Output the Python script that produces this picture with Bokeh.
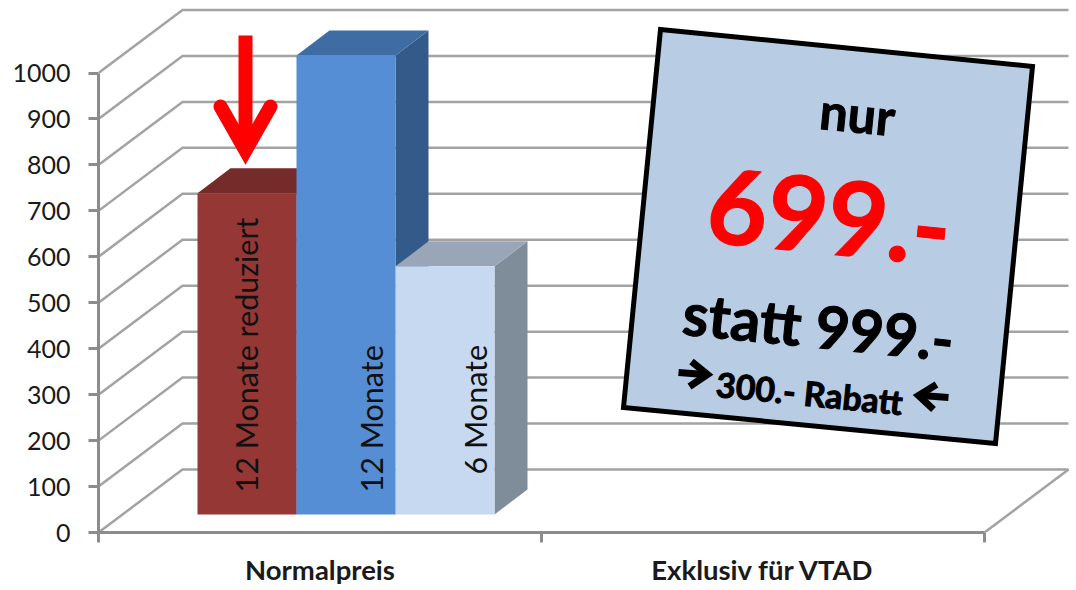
from bokeh.plotting import figure
from bokeh.models import Range1d, FixedTicker
from bokeh.core.properties import value
from bokeh.embed import file_html
from bokeh.resources import INLINE

# ---- data
categories = ["Normalpreis", "Exklusiv für VTAD"]
series_names = ["12 Monate reduziert", "12 Monate", "6 Monate"]
series_values = [699, 999, 540]
y_ticks = [0, 100, 200, 300, 400, 500, 600, 700, 800, 900, 1000]
note_texts = ["nur", "699.-", "statt 999.-", "300.- Rabatt"]

# ---- styling
front_colors = ["#953735", "#558ed5", "#c6d9f1"]
top_colors = ["#752b29", "#3f6ca3", "#98a6b8"]
side_colors = ["#6b2826", "#345a8a", "#7f8d9b"]
FONT = "Lato"
GRID = "#a3a3a3"
AXIS = "#8c8c8c"

# ---- geometry
W, H = 1076, 590
LEFT, BOTTOM = 98, 58
PX_X = 443.0                         # pixels per category
PX_Y = 0.4595                        # pixels per value unit
Y_MAX = (H - BOTTOM) / PX_Y
WALL_DX, WALL_DY = 84 / PX_X, 63 / PX_Y
BAR_DX, BAR_DY = 33 / PX_X, 25 / PX_Y
BAR_W = 99 / PX_X
BAR_X0 = 99 / PX_X
BAR_BASE = 18 / PX_Y

# page pixel -> data, for the pasted-on annotations only
def dx(px): return (px - 98) / PX_X
def dy(py): return (532 - py) / PX_Y

p = figure(width=W, height=H, output_backend="svg", toolbar_location=None,
           x_range=Range1d(0, (W - LEFT) / PX_X), y_range=Range1d(0, Y_MAX),
           min_border_left=LEFT, min_border_bottom=BOTTOM,
           min_border_top=0, min_border_right=0)
p.outline_line_color = None
p.grid.visible = False
p.background_fill_color = "white"

# axes
ya = p.yaxis[0]
ya.ticker = FixedTicker(ticks=y_ticks)
ya.bounds = (0, 1000)
ya.axis_line_color = AXIS; ya.axis_line_width = 3
ya.major_tick_line_color = AXIS; ya.major_tick_line_width = 3
ya.major_tick_out = 10; ya.major_tick_in = 0
ya.minor_tick_line_color = None
ya.major_label_text_font = FONT
ya.major_label_text_font_size = "25px"
ya.major_label_text_color = "#1a1a1a"
ya.major_label_standoff = 18

xa = p.xaxis[0]
xa.ticker = FixedTicker(ticks=[0.5, 1.5], minor_ticks=[0, 1, 2])
xa.bounds = (0, 2)
xa.major_label_overrides = {0.5: categories[0], 1.5: categories[1]}
xa.axis_line_color = AXIS; xa.axis_line_width = 3
xa.major_tick_line_color = None; xa.major_tick_out = 0; xa.major_tick_in = 0
xa.minor_tick_line_color = AXIS; xa.minor_tick_line_width = 3
xa.minor_tick_out = 10; xa.minor_tick_in = 0
xa.major_label_text_font = FONT
xa.major_label_text_font_style = "bold"
xa.major_label_text_font_size = "27.5px"
xa.major_label_text_color = "#1a1a1a"
xa.major_label_standoff = 10

# 3D walls: gridlines from the tick values
wall_xs, wall_ys = [], []
for t in y_ticks:
    wall_xs.append([0, WALL_DX, 2 + WALL_DX])
    wall_ys.append([t, t + WALL_DY, t + WALL_DY])
p.multi_line(wall_xs, wall_ys, line_color=GRID, line_width=2.5, line_join="miter")
p.line([2, 2 + WALL_DX], [0, WALL_DY], line_color=GRID, line_width=2.5)

# bars
for i, v in enumerate(series_values):
    x0 = BAR_X0 + i * BAR_W
    x1 = x0 + BAR_W
    y0 = BAR_BASE
    y1 = BAR_BASE + v
    p.patch([x1, x1 + BAR_DX, x1 + BAR_DX, x1], [y0, y0 + BAR_DY, y1 + BAR_DY, y1],
            fill_color=side_colors[i], line_color=None)
    p.patch([x0, x1, x1 + BAR_DX, x0 + BAR_DX], [y1, y1, y1 + BAR_DY, y1 + BAR_DY],
            fill_color=top_colors[i], line_color=None)
    p.quad(left=[x0], right=[x1], bottom=[y0], top=[y1],
           fill_color=front_colors[i], line_color=None)

# series labels inside bars
label_px = [(245, 492), (370, 492), (474, 474)]
for name, (lx, ly) in zip(series_names, label_px):
    p.text([dx(lx)], [dy(ly)], text=[name], angle=90, angle_units="deg",
           text_align="left", text_baseline="middle", text_color="#111111",
           text_font=value(FONT), text_font_size="30.5px")

# red arrow
RED = "#ff0000"
p.line([dx(245), dx(245)], [dy(35), dy(150)], line_color=RED, line_width=14)
p.line([dx(220), dx(245), dx(270)], [dy(106), dy(150), dy(106)], line_color=RED,
       line_width=14, line_cap="round", line_join="miter")

# price note
p.patch([dx(660), dx(1032), dx(995), dx(623)], [dy(29), dy(66), dy(443), dy(407)],
        fill_color="#b8cce4", line_color="#000000", line_width=5, line_join="miter")

ANGLE = -5.7
note_pos = [(857, 113, "50px", "#000000"), (829, 216, "104px", RED),
            (818, 325, "59px", "#000000"), (809, 392, "34px", "#000000")]
for txt, (tx, ty, fs, col) in zip(note_texts, note_pos):
    p.text([dx(tx)], [dy(ty)], text=[txt], angle=ANGLE, angle_units="deg",
           text_align="center", text_baseline="middle", text_color=col,
           text_font=value(FONT), text_font_style="bold", text_font_size=fs,
           text_outline_color=col)

# little black arrows
p.line([dx(678), dx(704)], [dy(372), dy(374)], line_color="black", line_width=7)
p.line([dx(691), dx(707), dx(689)], [dy(361), dy(374), dy(386)], line_color="black",
       line_width=7, line_join="miter")
p.line([dx(921), dx(948)], [dy(395), dy(397)], line_color="black", line_width=7)
p.line([dx(936), dx(918), dx(933)], [dy(384), dy(395), dy(409)], line_color="black",
       line_width=7, line_join="miter")

open("out.html", "w").write(file_html(p, INLINE))
